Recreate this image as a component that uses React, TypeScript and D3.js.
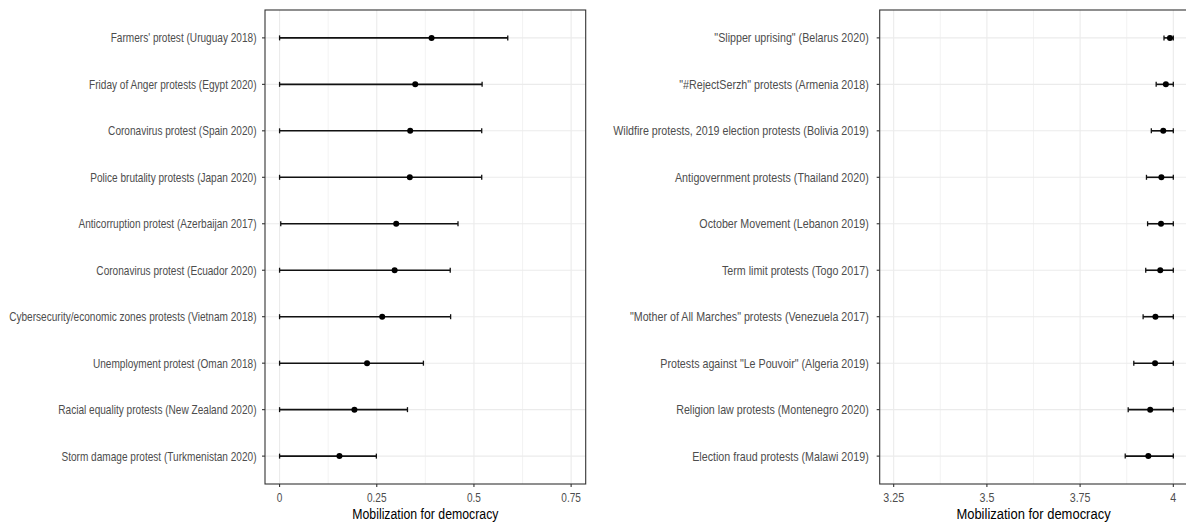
import React from "react";
import * as d3 from "d3";

const leftLabels = [
  "Farmers' protest (Uruguay 2018)",
  "Friday of Anger protests (Egypt 2020)",
  "Coronavirus protest (Spain 2020)",
  "Police brutality protests (Japan 2020)",
  "Anticorruption protest (Azerbaijan 2017)",
  "Coronavirus protest (Ecuador 2020)",
  "Cybersecurity/economic zones protests (Vietnam 2018)",
  "Unemployment protest (Oman 2018)",
  "Racial equality protests (New Zealand 2020)",
  "Storm damage protest (Turkmenistan 2020)",
];
const leftEst = [0.391, 0.349, 0.336, 0.335, 0.3, 0.296, 0.264, 0.225, 0.1925, 0.154];
const leftLo = [0, 0, 0, 0, 0.003, 0, 0, 0, 0, 0];
const leftHi = [0.587, 0.521, 0.52, 0.52, 0.459, 0.439, 0.44, 0.37, 0.329, 0.249];
const leftTicks = [0, 0.25, 0.5, 0.75];
const leftTickLabels = ["0", "0.25", "0.5", "0.75"];
const leftMinor = [0.125, 0.375, 0.625];
const leftLimits = [0, 0.75];

const rightLabels = [
  "\"Slipper uprising\" (Belarus 2020)",
  "\"#RejectSerzh\" protests (Armenia 2018)",
  "Wildfire protests, 2019 election protests (Bolivia 2019)",
  "Antigovernment protests (Thailand 2020)",
  "October Movement (Lebanon 2019)",
  "Term limit protests (Togo 2017)",
  "\"Mother of All Marches\" protests (Venezuela 2017)",
  "Protests against \"Le Pouvoir\" (Algeria 2019)",
  "Religion law protests (Montenegro 2020)",
  "Election fraud protests (Malawi 2019)",
];
const rightEst = [3.991, 3.98, 3.973, 3.968, 3.967, 3.965, 3.952, 3.951, 3.938, 3.933];
const rightLo = [3.975, 3.954, 3.941, 3.928, 3.931, 3.926, 3.919, 3.894, 3.879, 3.871];
const rightHi = [4, 4, 4, 4, 4, 4, 4, 4, 4, 4];
const rightTicks = [3.25, 3.5, 3.75, 4];
const rightTickLabels = ["3.25", "3.5", "3.75", "4"];
const rightMinor = [3.375, 3.625, 3.875];
const rightLimits = [3.25, 4];

const axisTitle = "Mobilization for democracy";

const FONT = "'Liberation Sans', Arial, sans-serif";

type PanelProps = {
  x0: number;
  x1: number;
  top: number;
  bottom: number;
  labels: string[];
  est: number[];
  lo: number[];
  hi: number[];
  ticks: number[];
  tickLabels: string[];
  minor: number[];
  limits: number[];
  sx: number;
  sxTitle: number;
  labelGap: number;
};

function Panel(p: PanelProps) {
  const span = p.limits[1] - p.limits[0];
  const x = d3
    .scaleLinear()
    .domain([p.limits[0] - span * 0.05, p.limits[1] + span * 0.05])
    .range([p.x0, p.x1]);
  const y = d3.scalePoint<string>().domain(p.labels).range([p.top, p.bottom]).padding(0.6);
  const cx = (p.x0 + p.x1) / 2;
  return (
    <g>
      <rect x={p.x0} y={p.top} width={p.x1 - p.x0} height={p.bottom - p.top} fill="#ffffff" />
      {p.minor.map((v, i) => (
        <line key={"mn" + i} x1={x(v)} x2={x(v)} y1={p.top} y2={p.bottom} stroke="#ebebeb" strokeWidth={0.6} />
      ))}
      {p.ticks.map((v, i) => (
        <line key={"mj" + i} x1={x(v)} x2={x(v)} y1={p.top} y2={p.bottom} stroke="#ebebeb" strokeWidth={1.1} />
      ))}
      {p.labels.map((l, i) => (
        <line key={"hy" + i} x1={p.x0} x2={p.x1} y1={y(l)!} y2={y(l)!} stroke="#ebebeb" strokeWidth={1.1} />
      ))}
      {p.labels.map((l, i) => {
        const yy = y(l)!;
        return (
          <g key={"eb" + i}>
            <line x1={x(p.lo[i])} x2={x(p.hi[i])} y1={yy} y2={yy} stroke="#111" strokeWidth={1.6} />
            <line x1={x(p.lo[i])} x2={x(p.lo[i])} y1={yy - 2.5} y2={yy + 2.5} stroke="#111" strokeWidth={1.3} />
            <line x1={x(p.hi[i])} x2={x(p.hi[i])} y1={yy - 2.5} y2={yy + 2.5} stroke="#111" strokeWidth={1.3} />
            <circle cx={x(p.est[i])} cy={yy} r={3} fill="#000" />
          </g>
        );
      })}
      <rect x={p.x0} y={p.top} width={p.x1 - p.x0} height={p.bottom - p.top} fill="none" stroke="#333333" strokeWidth={1.1} />
      {p.labels.map((l, i) => (
        <g key={"yl" + i}>
          <line x1={p.x0 - 3} x2={p.x0} y1={y(l)!} y2={y(l)!} stroke="#333333" strokeWidth={1.1} />
          <text
            transform={`translate(${p.x0 - p.labelGap},${y(l)!}) scale(${p.sx},1)`}
            dy="0.36em"
            textAnchor="end"
            fontFamily={FONT}
            fontSize={12.3}
            fill="#4d4d4d"
          >
            {l}
          </text>
        </g>
      ))}
      {p.ticks.map((v, i) => (
        <g key={"xt" + i}>
          <line x1={x(v)} x2={x(v)} y1={p.bottom} y2={p.bottom + 3} stroke="#333333" strokeWidth={1.1} />
          <text
            transform={`translate(${x(v)},501.5) scale(${p.sx},1)`}
            textAnchor="middle"
            fontFamily={FONT}
            fontSize={12.3}
            fill="#4d4d4d"
          >
            {p.tickLabels[i]}
          </text>
        </g>
      ))}
      <text
        transform={`translate(${cx},518.5) scale(${p.sxTitle},1)`}
        textAnchor="middle"
        fontFamily={FONT}
        fontSize={15}
        fill="#000"
      >
        {axisTitle}
      </text>
    </g>
  );
}

export default function App() {
  return (
    <svg
      width={1186}
      height={522}
      style={{ position: "absolute", left: 0, top: 0, background: "#fff" }}
    >
      <rect width={1186} height={522} fill="#fff" />
      <Panel
        x0={265}
        x1={585.7}
        top={10}
        bottom={484}
        labels={leftLabels}
        est={leftEst}
        lo={leftLo}
        hi={leftHi}
        ticks={leftTicks}
        tickLabels={leftTickLabels}
        minor={leftMinor}
        limits={leftLimits}
        sx={0.82}
        sxTitle={0.82}
        labelGap={8.5}
      />
      <Panel
        x0={879.7}
        x1={1187.3}
        top={10}
        bottom={484}
        labels={rightLabels}
        est={rightEst}
        lo={rightLo}
        hi={rightHi}
        ticks={rightTicks}
        tickLabels={rightTickLabels}
        minor={rightMinor}
        limits={rightLimits}
        sx={0.87}
        sxTitle={0.865}
        labelGap={11}
      />
    </svg>
  );
}
